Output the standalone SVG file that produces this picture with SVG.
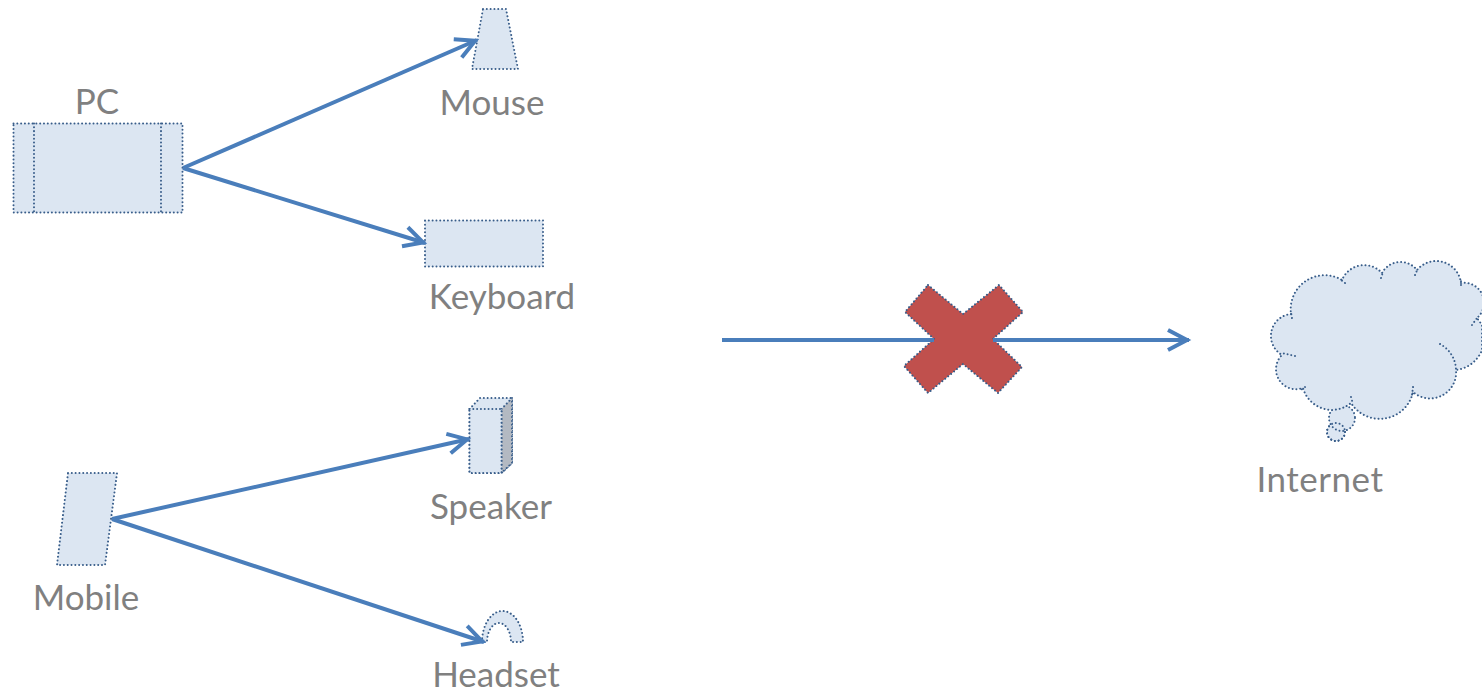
<svg xmlns="http://www.w3.org/2000/svg" width="1482" height="692" viewBox="0 0 1482 692">
<style>
.s{fill:#dce6f2;stroke:#385d8a;stroke-width:2;stroke-dasharray:0.01 3.8;stroke-linecap:round;stroke-linejoin:round}
.n{fill:none;stroke:#385d8a;stroke-width:2;stroke-dasharray:0.01 3.8;stroke-linecap:round}
.t{font-family:"Lato","Liberation Sans",sans-serif;font-size:35px;fill:#7f7f7f;opacity:.99}
.c{fill:none;stroke:#4a7ebb;stroke-width:4}
</style>
<defs>
<marker id="a" markerUnits="userSpaceOnUse" markerWidth="32" markerHeight="32" refX="27" refY="16" orient="auto" viewBox="0 0 32 32">
<path d="M6 6 L25 16 L6 26" fill="none" stroke="#4a7ebb" stroke-width="4"/>
</marker>
</defs>
<rect width="1482" height="692" fill="#fff"/>
<g id="pc">
<rect class="s" x="13.500" y="123.500" width="169" height="89"/>
<path class="n" d="M34 123.500V212.500M161 123.500V212.500"/>
<text class="t" x="97" y="114" text-anchor="middle">PC</text>
</g>
<g id="mouse">
<path class="s" d="M483 9H506L518 69H472Z"/>
<text class="t" x="492" y="115" text-anchor="middle">Mouse</text>
</g>
<g id="keyboard">
<rect class="s" x="425" y="220.500" width="118" height="46"/>
<text class="t" x="502" y="309" text-anchor="middle">Keyboard</text>
</g>
<g id="speaker">
<path class="s" d="M469.500 409L480 398H512V463L501.500 473H469.500Z"/>
<path class="s" style="fill:#b3b9c2" d="M501.500 409L512 398V463L501.500 473Z"/>
<path class="s" d="M469.500 409H501.500V473H469.500Z"/>
<text class="t" x="491" y="519" text-anchor="middle">Speaker</text>
</g>
<g id="mobile">
<path class="s" d="M68 473H117L105 565H57Z"/>
<text class="t" x="86" y="610" text-anchor="middle">Mobile</text>
</g>
<g id="headset">
<path class="s" d="M482 642A20.500 31 0 0 1 523 642H511A12 19 0 0 0 487 642Z"/>
<text class="t" x="496" y="687" text-anchor="middle">Headset</text>
</g>
<g id="block">
<path d="M928 285L963 314L999 285L1023 312L993 339L1022 367L998 393L963 364L928 393L904 366L934 339L905 312Z" fill="#c0504d" stroke="#385d8a" stroke-width="2" stroke-dasharray="0.01 3.8" stroke-linecap="round"/>
</g>
<g id="internet">
<circle class="s" cx="1336" cy="432" r="9"/>
<circle class="s" cx="1342" cy="418" r="13"/>
<circle class="n" cx="1336" cy="432" r="9"/>
<path class="s" d="M1291 314A22 22 0 0 0 1282 355A20 20 0 0 0 1303 388A30 30 0 0 0 1351 403A34 34 0 0 0 1413 392A26 26 0 0 0 1456 370A32 32 0 0 0 1482 350V325L1477 318A20 20 0 0 0 1461 283A25 25 0 0 0 1417 270A21 21 0 0 0 1382 273A24 24 0 0 0 1342 280A34 34 0 0 0 1291 314Z"/>
<path class="n" d="M1292 318L1291 312M1295 356L1282 353M1305 387L1301 390M1351 397L1353 404M1413 387L1412 395M1440 344A30 30 0 0 1 1456 370M1472 325L1477 318M1461 285L1461 281M1345 283L1340 279M1381 278L1383 272M1415 275L1418 268"/>
<text class="t" x="1320" y="492" text-anchor="middle" letter-spacing="0.500">Internet</text>
</g>
<g id="connectors">
<path class="c" marker-end="url(#a)" d="M183 168L477 40"/>
<path class="c" marker-end="url(#a)" d="M183 168L425 243"/>
<path class="c" marker-end="url(#a)" d="M112 519L469 439"/>
<path class="c" marker-end="url(#a)" d="M112 519L484 642"/>
<path class="c" d="M722 340H934"/>
<path class="c" marker-end="url(#a)" d="M993 340H1189"/>
</g>
</svg>
